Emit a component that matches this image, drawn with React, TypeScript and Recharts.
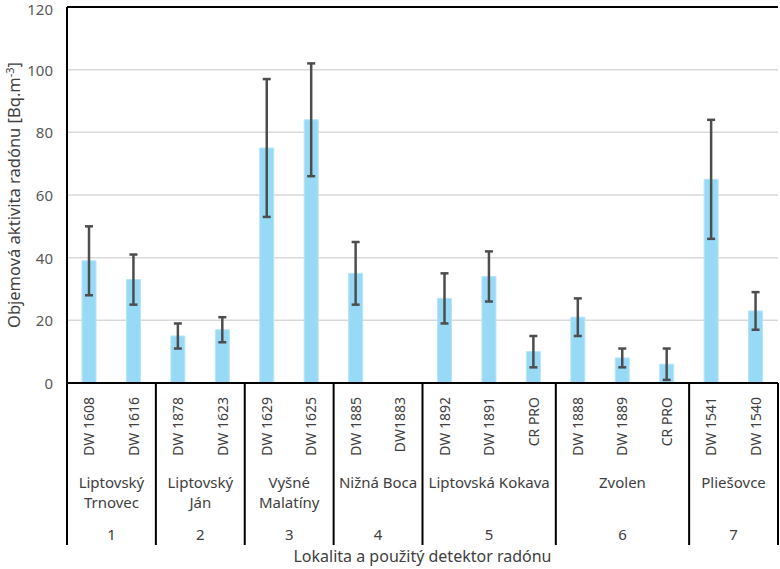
import { BarChart, Bar, XAxis, YAxis, CartesianGrid, ErrorBar, ReferenceLine } from 'recharts'

const detectors = ['DW 1608', 'DW 1616', 'DW 1878', 'DW 1623', 'DW 1629', 'DW 1625', 'DW 1885', 'DW1883',
                   'DW 1892', 'DW 1891', 'CR PRO', 'DW 1888', 'DW 1889', 'CR PRO', 'DW 1541', 'DW 1540']
const values = [39, 33, 15, 17, 75, 84, 35, null, 27, 34, 10, 21, 8, 6, 65, 23]
const errors = [11, 8, 4, 4, 22, 18, 10, null, 8, 8, 5, 6, 3, 5, 19, 6]

const groupNames = [['Liptovský', 'Trnovec'], ['Liptovský', 'Ján'], ['Vyšné', 'Malatíny'], ['Nižná Boca'],
                    ['Liptovská Kokava'], ['Zvolen'], ['Pliešovce']]
const groupSizes = [2, 2, 2, 2, 3, 3, 2]
const groupNumbers = ['1', '2', '3', '4', '5', '6', '7']

const yTicks = [0, 20, 40, 60, 80, 100, 120]

const data = detectors.map((d, i) => ({
  id: i,
  name: d,
  value: values[i],
  err: errors[i] == null ? undefined : [errors[i], errors[i]],
}))

const FONT = '"Noto Sans", sans-serif'
const W = 780, H = 569
const LEFT = 67, RIGHT = 778, BOTTOM = 383
const BAND = (RIGHT - LEFT) / detectors.length

const groupStarts: number[] = []
groupSizes.reduce((acc, n) => { groupStarts.push(acc); return acc + n }, 0)

function XTick(props: any) {
  const { x, index } = props
  const out: any[] = [
    <text key='d' transform={`translate(${x + 5},${397}) rotate(-90)`} textAnchor='end'
      fontSize={14} fill='#404040' fontFamily={FONT}>{detectors[index]}</text>
  ]
  const g = groupStarts.indexOf(index)
  if (g >= 0) {
    const left = x - BAND / 2
    const cx = left + groupSizes[g] * BAND / 2
    out.push(<line key='l' x1={left} x2={left} y1={BOTTOM} y2={545} stroke='#000' strokeWidth={2} />)
    out.push(
      <text key='n' x={cx} y={488} textAnchor='middle' fontSize={15} fill='#404040' fontFamily={FONT}>
        {groupNames[g].map((t, k) => <tspan key={k} x={cx} dy={k === 0 ? 0 : 20}>{t}</tspan>)}
      </text>
    )
    out.push(<text key='k' x={cx} y={540} textAnchor='middle' fontSize={15} fill='#404040'
      fontFamily={FONT}>{groupNumbers[g]}</text>)
  }
  if (index === detectors.length - 1) {
    const r = x + BAND / 2
    out.push(<line key='r' x1={r} x2={r} y1={BOTTOM} y2={545} stroke='#000' strokeWidth={2} />)
  }
  return <g>{out}</g>
}

function YTick(props: any) {
  const { x, y, payload } = props
  return (
    <text x={x} y={y + 1} dy={5} textAnchor='end' fontSize={15} fill='#595959' fontFamily={FONT}>
      {payload.value}
    </text>
  )
}

function YLabel() {
  return (
    <text transform={`translate(20,195) rotate(-90)`} textAnchor='middle' fontSize={16.5}
      fill='#404040' fontFamily={FONT}>
      Objemová aktivita radónu [Bq.m<tspan dy={-6} fontSize={11}>-3</tspan><tspan dy={6}>]</tspan>
    </text>
  )
}

function XTitle() {
  return (
    <text x={(LEFT + RIGHT) / 2} y={562} textAnchor='middle' fontSize={16} fill='#404040'
      fontFamily={FONT}>Lokalita a použitý detektor radónu</text>
  )
}

export default function App() {
  return (
    <div style={{ position: 'absolute', left: 0, top: 0, background: '#fff' }}>
      <BarChart width={W} height={H} data={data}
        margin={{ top: 7, right: 2, left: 0, bottom: 0 }} barCategoryGap={0}>
        <CartesianGrid vertical={false} stroke='#d9d9d9' strokeWidth={1.5} />
        <XAxis dataKey='id' type='category' height={186} tickLine={false} interval={0}
          axisLine={{ stroke: '#000', strokeWidth: 2 }} tick={<XTick />} label={<XTitle />} />
        <YAxis domain={[0, 120]} ticks={yTicks} width={67} tickLine={false} tickSize={0} tickMargin={14}
          axisLine={{ stroke: '#000', strokeWidth: 2 }} tick={<YTick />} label={<YLabel />} />
        <YAxis yAxisId='r' orientation='right' width={0} domain={[0, 120]} tick={false}
          tickLine={false} axisLine={{ stroke: '#000', strokeWidth: 2 }} />
        <ReferenceLine y={120} stroke='#000' strokeWidth={2} />
        <Bar dataKey='value' fill='#98daf6' stroke='#b5e5f9' strokeWidth={1} barSize={14}
          isAnimationActive={false}>
          <ErrorBar dataKey='err' width={4} stroke='#4d4d4d' strokeWidth={2.5} direction='y' />
        </Bar>
      </BarChart>
    </div>
  )
}
